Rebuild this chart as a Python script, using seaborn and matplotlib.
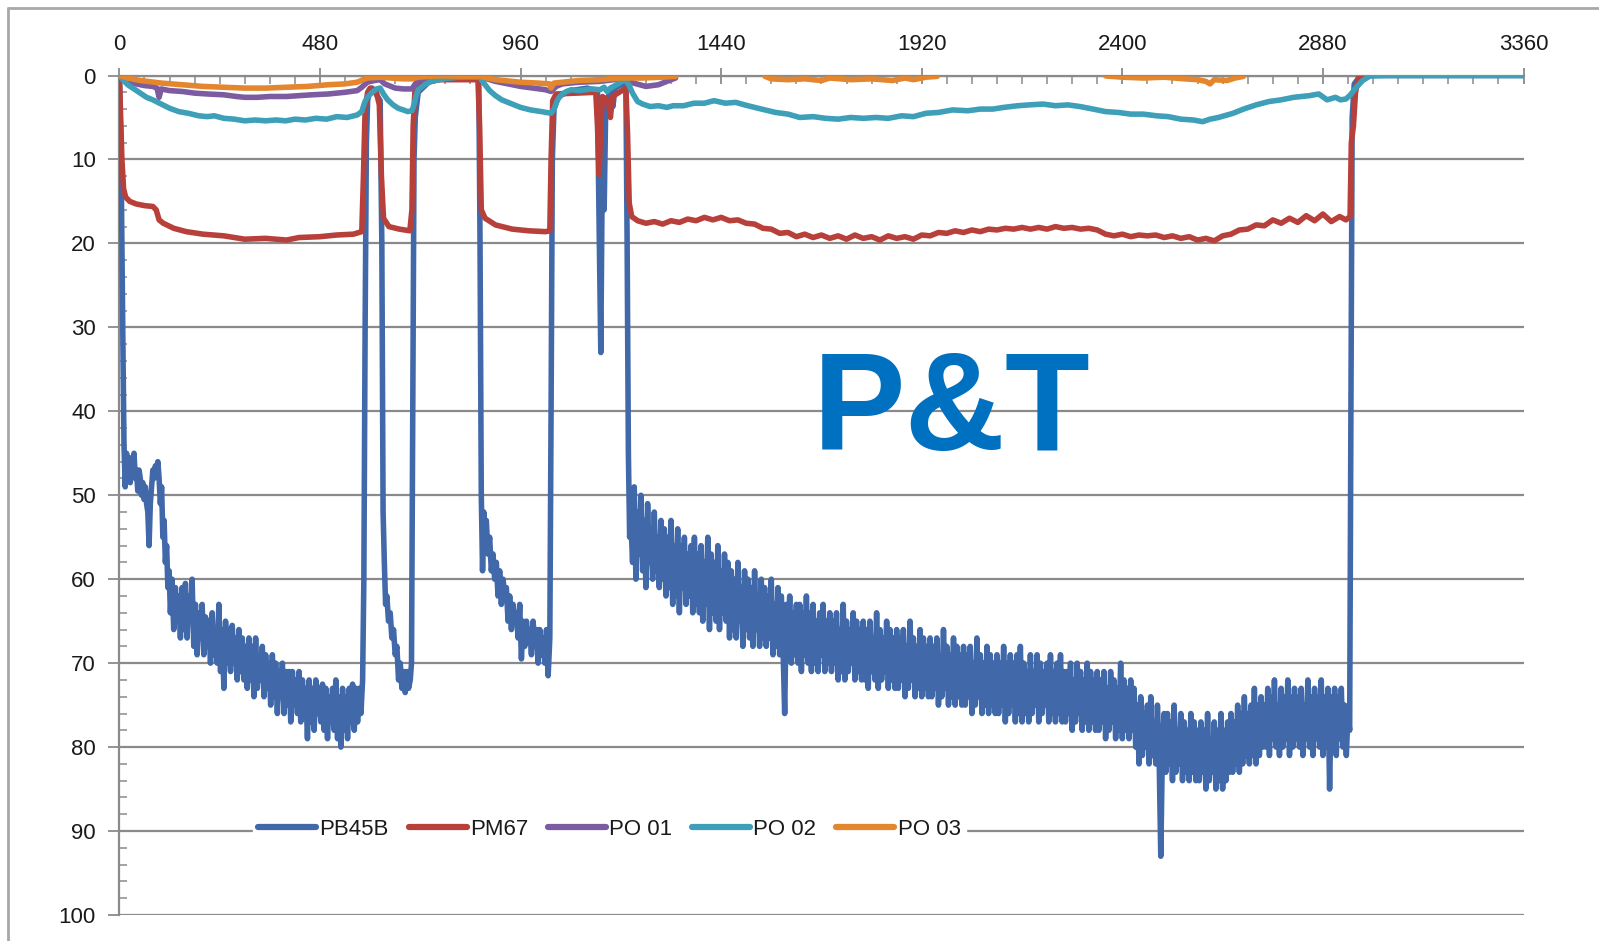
import numpy as np
import pandas as pd
import matplotlib
matplotlib.use("Agg")
import matplotlib.pyplot as plt
import seaborn as sns
from matplotlib.lines import Line2D
from matplotlib.ticker import MultipleLocator

# ---------------- data ----------------
SERIES = ["PB45B", "PM67", "PO 01", "PO 02", "PO 03"]
COLORS = ["#4169AA", "#B8403A", "#7D5BA0", "#3D9FB8", "#E3862E"]
X_TICKS = [0, 480, 960, 1440, 1920, 2400, 2880, 3360]
Y_TICKS = [0, 10, 20, 30, 40, 50, 60, 70, 80, 90, 100]

# PB45B: head section (x, y)
pb45b_head = [
    (0, 0), (4, 10), (8, 30), (11, 44), (14, 49), (17, 45), (20, 47), (23, 45.5), (26, 48.5), (29, 46),
    (32, 47.5), (35, 45), (38, 48), (41, 47), (44, 49.5), (47, 47), (50, 48), (53, 50), (56, 48.5), (59, 50.5),
    (62, 49), (65, 51), (68, 52), (71, 56), (74, 51), (77, 49), (80, 47), (83, 48), (86, 46.5), (89, 47.5),
    (92, 46), (95, 48), (98, 51), (101, 49), (104, 55), (107, 53), (110, 58), (113, 56), (116, 61), (119, 59),
    (122, 64), (126, 60), (130, 66), (134, 61), (138, 65), (142, 62), (146, 67), (150, 61), (154, 66), (158, 60.5),
    (162, 67), (166, 62), (170, 65), (174, 60), (178, 68), (182, 63), (186, 69), (190, 64), (194, 67), (198, 63),
    (202, 69), (206, 64.5), (210, 68), (214, 65), (218, 70), (222, 64), (226, 69), (230, 66), (234, 70), (238, 63),
    (242, 71), (246, 66), (250, 73), (254, 65), (258, 70), (262, 66), (266, 71), (270, 65.5), (274, 70), (278, 67),
    (282, 72), (286, 66), (290, 71), (294, 67), (298, 72), (302, 68), (306, 73), (310, 67), (314, 72), (318, 68),
    (322, 74), (326, 67), (330, 73), (334, 69), (338, 72), (342, 68), (346, 74), (350, 69), (354, 73), (358, 70),
    (362, 75), (366, 69), (370, 74), (374, 70), (378, 76), (382, 71), (386, 74), (390, 70), (394, 76), (398, 71),
    (402, 75), (406, 71), (410, 77), (414, 71), (418, 75), (422, 72), (426, 76), (430, 71), (434, 77), (438, 72),
    (442, 76), (446, 73), (450, 79), (454, 72), (458, 77), (462, 73), (466, 78), (470, 72), (474, 76), (478, 73),
    (482, 77), (486, 72.5), (490, 78), (494, 73), (498, 79), (502, 74), (506, 77), (510, 73), (514, 78), (518, 72),
    (522, 79), (526, 74), (530, 80), (534, 73), (538, 78), (542, 74), (546, 79), (550, 73), (554, 77), (558, 72.5),
    (562, 78), (566, 73), (570, 77), (574, 73), (578, 76), (582, 72), (585, 60), (588, 30), (591, 8), (594, 3),
    (598, 2), (605, 1.5), (612, 2), (618, 2.5), (624, 3), (628, 20), (631, 52), (634, 58), (637, 63), (640, 62),
    (644, 65), (648, 64), (652, 67), (656, 66), (660, 69), (664, 68), (668, 72), (672, 70), (676, 73), (680, 71),
    (684, 73.5), (688, 71), (692, 73), (696, 72), (699, 70), (702, 40), (705, 10), (708, 5), (715, 2), (740, 0.8),
    (780, 0.3), (860, 0.3), (863, 20), (866, 50), (869, 59), (872, 52), (875, 55), (878, 53), (882, 57), (886, 55),
    (890, 59), (894, 57), (898, 60), (902, 58), (906, 62), (910, 59), (914, 63), (918, 60), (922, 62), (926, 61),
    (930, 65), (934, 62), (938, 66), (942, 63), (946, 65), (950, 64), (954, 67), (958, 63), (962, 69.5), (966, 65),
    (970, 68), (974, 65), (978, 67), (982, 66), (986, 69), (990, 65), (994, 68), (998, 66), (1002, 70), (1006, 66),
    (1010, 69), (1014, 67), (1018, 70), (1022, 66), (1026, 71.5), (1030, 67), (1033, 40), (1036, 10), (1040, 4), (1050, 2.5),
    (1080, 1.8), (1120, 1.5), (1144, 2), (1148, 18), (1152, 33), (1156, 8), (1160, 16), (1164, 3), (1176, 2), (1181, 3.7),
    (1186, 1.5), (1205, 1), (1212, 1), (1215, 20), (1218, 45), (1221, 55),
]
# PB45B: noisy stretch, one reading every 4 units from 1224 to 2940
pb45b_band_start = 1224
pb45b_band = [
    53, 58, 49, 60, 52, 57, 50, 59, 53, 61, 51, 58, 54, 60, 52, 59, 55, 61, 53, 60,
    54, 62, 55, 61, 53, 63, 56, 62, 54, 64, 56, 61, 55, 63, 57, 62, 56, 64, 55, 63,
    57, 64, 56, 65, 58, 63, 55, 66, 57, 64, 58, 65, 56, 66, 59, 64, 57, 65, 58, 67,
    59, 66, 60, 67, 58, 65, 61, 68, 59, 66, 60, 67, 61, 68, 59, 66, 62, 68, 60, 67,
    61, 68, 62, 67, 60, 69, 63, 68, 61, 69, 62, 68, 76, 63, 69, 62, 70, 64, 69, 63,
    70, 63, 71, 64, 69, 62, 70, 64, 71, 63, 70, 65, 71, 64, 69, 63, 71, 65, 70, 64,
    71, 65, 70, 64, 72, 66, 71, 63, 72, 65, 71, 66, 70, 64, 72, 65, 71, 66, 72, 65,
    72, 66, 73, 65, 71, 67, 72, 64, 73, 66, 72, 67, 71, 65, 73, 66, 72, 67, 73, 66,
    73, 67, 72, 66, 74, 68, 73, 65, 72, 67, 74, 68, 73, 66, 74, 67, 73, 68, 74, 67,
    74, 68, 73, 67, 75, 69, 74, 66, 73, 68, 75, 69, 74, 67, 75, 68, 74, 69, 75, 68,
    75, 69, 74, 68, 76, 70, 75, 67, 74, 69, 76, 70, 75, 68, 76, 69, 75, 70, 76, 69,
    76, 70, 75, 68, 77, 70, 76, 69, 75, 70, 77, 69, 76, 68, 77, 70, 76, 71, 77, 69,
    76, 71, 75, 69, 77, 70, 76, 71, 75, 70, 77, 69, 76, 71, 77, 70, 76, 69, 77, 71,
    77, 71, 76, 70, 78, 72, 77, 70, 76, 71, 78, 72, 77, 70, 78, 71, 77, 72, 78, 71,
    78, 72, 77, 71, 79, 73, 78, 71, 77, 72, 79, 73, 78, 70, 79, 72, 78, 73, 79, 72,
    78, 73, 80, 75, 82, 74, 81, 76, 80, 75, 82, 74, 81, 77, 82, 75, 81, 93, 80, 76,
    83, 76, 82, 77, 84, 75, 83, 78, 82, 76, 84, 77, 83, 78, 84, 76, 83, 77, 84, 78,
    84, 77, 83, 78, 85, 76, 84, 79, 83, 77, 85, 78, 84, 76, 85, 78, 84, 77, 83, 76,
    83, 77, 82, 75, 83, 76, 82, 74, 81, 76, 82, 75, 81, 73, 82, 75, 81, 74, 80, 75,
    80, 73, 81, 74, 79, 72, 80, 75, 81, 73, 80, 74, 79, 72, 81, 74, 80, 73, 79, 74,
    80, 73, 81, 75, 79, 72, 80, 74, 81, 73, 79, 74, 80, 72, 81, 74, 80, 73, 85, 74,
    80, 73, 81, 74, 79, 73, 80, 75, 81, 76,
]
pb45b_tail = [(2944, 78), (2947, 40), (2950, 5), (2955, 1), (2970, 0), (3360, 0)]

pm67_pts = [
    (0, 0), (3, 5), (6, 10), (10, 13.5), (15, 14.5), (25, 15), (40, 15.3), (60, 15.5), (80, 15.6), (88, 16),
    (95, 17.2), (105, 17.6), (130, 18.2), (160, 18.6), (200, 18.9), (250, 19.1), (300, 19.5), (350, 19.4), (400, 19.6), (430, 19.3),
    (480, 19.2), (520, 19.0), (560, 18.9), (580, 18.6), (584, 12), (588, 4), (594, 2), (600, 1.5), (615, 2), (622, 3.5),
    (627, 12), (632, 17), (645, 18), (670, 18.3), (695, 18.5), (700, 16), (703, 6), (707, 2), (720, 1), (760, 0.5),
    (858, 0.5), (862, 6), (866, 16), (875, 17), (900, 17.8), (940, 18.3), (980, 18.5), (1020, 18.6), (1030, 18.5), (1033, 10),
    (1037, 3), (1045, 2.2), (1140, 2), (1144, 6), (1148, 11.8), (1152, 6), (1156, 2.5), (1170, 3), (1175, 5), (1180, 2.5),
    (1212, 1.5), (1216, 7), (1220, 15.2), (1226, 16.8), (1240, 17.3), (1260, 17.6), (1280, 17.4), (1300, 17.7), (1320, 17.3), (1340, 17.5),
    (1360, 17.1), (1380, 17.3), (1400, 16.9), (1420, 17.2), (1440, 16.9), (1460, 17.3), (1480, 17.2), (1500, 17.6), (1520, 17.7), (1540, 18.2),
    (1560, 18.3), (1580, 18.8), (1600, 18.7), (1620, 19.2), (1640, 18.9), (1660, 19.3), (1680, 19.0), (1700, 19.4), (1720, 19.1), (1740, 19.5),
    (1760, 19.0), (1780, 19.4), (1800, 19.2), (1820, 19.6), (1840, 19.1), (1860, 19.4), (1880, 19.2), (1900, 19.5), (1920, 19.0), (1940, 19.1),
    (1960, 18.7), (1980, 18.8), (2000, 18.5), (2020, 18.7), (2040, 18.4), (2060, 18.6), (2080, 18.3), (2100, 18.4), (2120, 18.2), (2140, 18.3),
    (2160, 18.1), (2180, 18.3), (2200, 18.1), (2220, 18.3), (2240, 18.0), (2260, 18.2), (2280, 18.1), (2300, 18.3), (2320, 18.2), (2340, 18.4),
    (2360, 18.9), (2380, 19.1), (2400, 18.9), (2420, 19.2), (2440, 19.0), (2460, 19.1), (2480, 19.0), (2500, 19.3), (2520, 19.1), (2540, 19.4),
    (2560, 19.2), (2580, 19.6), (2600, 19.4), (2620, 19.7), (2640, 19.1), (2660, 18.9), (2680, 18.4), (2700, 18.3), (2720, 17.8), (2740, 17.9),
    (2760, 17.2), (2780, 17.6), (2800, 17.0), (2820, 17.5), (2840, 16.7), (2860, 17.3), (2880, 16.5), (2900, 17.4), (2920, 16.8), (2935, 17.2),
    (2945, 16.8), (2948, 8), (2953, 6), (2958, 2), (2965, 0.3), (2975, 0),
]

po01_pts = [
    (0, 0), (10, 0.5), (20, 0.8), (40, 1.0), (60, 1.2), (80, 1.3), (90, 1.5), (95, 2.6), (100, 1.6), (120, 1.8),
    (150, 1.9), (180, 2.1), (210, 2.2), (250, 2.3), (280, 2.5), (300, 2.6), (330, 2.6), (360, 2.5), (400, 2.5), (430, 2.4),
    (460, 2.3), (500, 2.2), (540, 2.0), (569, 1.8), (580, 1.4), (593, 0.8), (610, 0.6), (624, 0.5), (635, 1.0), (660, 1.5),
    (680, 1.6), (700, 1.6), (708, 1.0), (715, 0.6), (740, 0.3), (760, 0.1), (862, 0.1), (880, 0.4), (900, 0.7), (930, 1.0),
    (960, 1.3), (990, 1.5), (1020, 1.7), (1033, 1.9), (1045, 1.3), (1060, 1.0), (1100, 0.8), (1150, 0.7), (1200, 0.4), (1215, 0.5),
    (1230, 0.9), (1260, 1.3), (1290, 1.1), (1310, 0.7), (1331, 0.3),
]

po02_pts = [
    (0, 0), (10, 0.6), (20, 1.1), (35, 1.6), (50, 2.1), (65, 2.6), (80, 2.9), (100, 3.4), (120, 3.9), (142, 4.3),
    (165, 4.5), (190, 4.8), (210, 4.9), (227, 4.8), (250, 5.1), (275, 5.2), (300, 5.4), (325, 5.3), (350, 5.4), (375, 5.3),
    (398, 5.4), (420, 5.2), (445, 5.3), (470, 5.1), (496, 5.2), (520, 4.9), (545, 5.0), (569, 4.7), (580, 4.3), (587, 3.2),
    (593, 2.6), (605, 2.0), (615, 1.6), (624, 1.5), (632, 2.2), (642, 2.9), (655, 3.5), (667, 3.9), (679, 4.1), (690, 4.3),
    (700, 4.2), (705, 3.5), (710, 2.4), (715, 1.7), (730, 1.1), (745, 0.7), (764, 0.5), (790, 0.3), (813, 0.2), (840, 0.2),
    (862, 0.2), (872, 0.9), (886, 1.8), (900, 2.4), (915, 2.9), (935, 3.3), (960, 3.8), (984, 4.1), (1010, 4.3), (1033, 4.5),
    (1040, 4.0), (1046, 3.2), (1051, 2.7), (1060, 2.2), (1070, 1.9), (1081, 1.7), (1100, 1.8), (1130, 1.6), (1150, 1.7), (1160, 1.4),
    (1167, 1.9), (1175, 1.5), (1190, 1.1), (1200, 0.8), (1210, 0.5), (1220, 1.2), (1228, 2.1), (1240, 3.1), (1252, 3.4), (1270, 3.7),
    (1290, 3.6), (1310, 3.8), (1325, 3.6), (1350, 3.6), (1375, 3.3), (1400, 3.3), (1423, 3.0), (1450, 3.3), (1475, 3.2), (1496, 3.5),
    (1520, 3.8), (1545, 4.1), (1570, 4.4), (1600, 4.6), (1628, 5.0), (1660, 4.9), (1690, 5.1), (1720, 5.2), (1750, 5.0), (1780, 5.1),
    (1810, 5.0), (1840, 5.1), (1872, 4.8), (1900, 4.9), (1930, 4.5), (1960, 4.4), (1994, 4.1), (2030, 4.2), (2060, 4.0), (2090, 4.0),
    (2116, 3.8), (2150, 3.6), (2177, 3.5), (2210, 3.4), (2240, 3.6), (2270, 3.5), (2299, 3.7), (2330, 4.0), (2360, 4.3), (2390, 4.4),
    (2420, 4.6), (2450, 4.6), (2482, 4.8), (2510, 4.9), (2540, 5.2), (2570, 5.3), (2592, 5.5), (2610, 5.2), (2630, 5.0), (2665, 4.5),
    (2690, 4.0), (2720, 3.5), (2751, 3.1), (2780, 2.9), (2810, 2.6), (2848, 2.4), (2870, 2.2), (2890, 2.9), (2910, 2.6), (2922, 2.9),
    (2935, 2.8), (2946, 2.3), (2960, 1.4), (2975, 0.6), (2993, 0.05), (3030, 0), (3360, 0),
]

po03_seg1 = [
    (0, 0), (20, 0.3), (50, 0.6), (100, 0.9), (150, 1.1), (200, 1.3), (250, 1.4), (300, 1.5), (350, 1.5), (400, 1.4),
    (450, 1.3), (500, 1.1), (540, 1.0), (569, 0.8), (593, 0.3), (624, 0.2), (650, 0.3), (680, 0.4), (700, 0.4), (715, 0.2),
    (760, 0.05), (862, 0.1), (900, 0.5), (960, 0.8), (1000, 0.9), (1030, 1.0), (1033, 1.5), (1040, 0.9), (1100, 0.6), (1150, 0.5),
    (1200, 0.3), (1250, 0.3), (1300, 0.2), (1331, 0.1),
]
po03_seg2 = [
    (1545, 0.1), (1560, 0.4), (1600, 0.5), (1640, 0.4), (1680, 0.6), (1700, 0.3), (1750, 0.5), (1800, 0.4), (1850, 0.6), (1880, 0.3),
    (1900, 0.5), (1930, 0.2), (1957, 0.1),
]
po03_seg3 = [
    (2360, 0.05), (2400, 0.2), (2450, 0.3), (2500, 0.2), (2550, 0.4), (2580, 0.5), (2600, 0.7), (2610, 1.0), (2620, 0.5), (2650, 0.6),
    (2670, 0.3), (2690, 0.1),
]

# ---------------- assemble long-form table ----------------
rows = []
def add(series, seg, pts):
    for x, y in pts:
        rows.append((series, seg, x, y))

pb45b_all = list(pb45b_head) + [(pb45b_band_start + 4 * i, v) for i, v in enumerate(pb45b_band)] + list(pb45b_tail)
add("PB45B", 0, pb45b_all)
add("PM67", 1, pm67_pts)
add("PO 01", 2, po01_pts)
add("PO 02", 3, po02_pts)
add("PO 03", 4, po03_seg1)
add("PO 03", 5, po03_seg2)
add("PO 03", 6, po03_seg3)
df = pd.DataFrame(rows, columns=["series", "seg", "t", "value"])

# ---------------- figure ----------------
sns.set_theme(style="white")
plt.rcParams["font.family"] = ["Liberation Sans", "DejaVu Sans"]
plt.rcParams["path.simplify"] = False

W, H = 1599, 941
fig = plt.figure(figsize=(W / 100, H / 100), dpi=100)
fig.patch.set_facecolor("white")
ax = fig.add_axes([119.4 / W, 1 - 915 / H, (1523.5 - 119.4) / W, (915 - 75.5) / H])

palette = dict(zip(SERIES, COLORS))
sns.lineplot(data=df, x="t", y="value", hue="series", hue_order=SERIES, units="seg",
             estimator=None, sort=False, palette=palette, linewidth=4.0, legend=False,
             ax=ax, zorder=3)
for ln in ax.get_lines():
    ln.set_linewidth(4.0)
    ln.set_solid_joinstyle("round")
    ln.set_solid_capstyle("round")

GRID = "#8a8a8a"
ax.set_xlim(0, 3360)
ax.set_ylim(100, 0)
ax.set_xlabel("")
ax.set_ylabel("")
ax.xaxis.tick_top()
ax.set_xticks(X_TICKS)
ax.set_xticklabels([str(v) for v in X_TICKS])
ax.xaxis.set_minor_locator(MultipleLocator(60))
ax.set_yticks(Y_TICKS)
ax.set_yticklabels([str(v) for v in Y_TICKS])
ax.yaxis.set_minor_locator(MultipleLocator(2))
ax.grid(axis="y", which="major", color=GRID, linewidth=1.6, zorder=1)
ax.grid(axis="x", visible=False)
ax.set_axisbelow(True)

for side in ["right", "bottom"]:
    ax.spines[side].set_visible(False)
for side in ["top", "left"]:
    ax.spines[side].set_visible(True)
    ax.spines[side].set_color(GRID)
    ax.spines[side].set_linewidth(1.6)

ax.tick_params(axis="x", which="major", direction="inout", length=11, width=1.3, color=GRID,
               labelsize=16, labelcolor="#1a1a1a", pad=9, top=True, bottom=False)
ax.tick_params(axis="x", which="minor", direction="in", length=6, width=1.1, color=GRID, top=True, bottom=False)
ax.tick_params(axis="y", which="major", direction="out", length=8, width=1.3, color=GRID,
               labelsize=16, labelcolor="#1a1a1a", pad=9, left=True)
ax.tick_params(axis="y", which="minor", direction="in", length=6, width=1.1, color=GRID, left=True)

# big label
ax.text(1992, 44.6, "P&T", fontsize=100, fontweight="bold", color="#0070C0",
        ha="center", va="baseline", family=["Liberation Sans", "DejaVu Sans"], zorder=4)

# legend
handles = [Line2D([0], [0], color=c, lw=4.5) for c in COLORS]
leg = ax.legend(handles, SERIES, loc="center", bbox_to_anchor=(0.349, 0.1024), ncol=5,
                frameon=True, fontsize=16, handlelength=2.6, handletextpad=0.15,
                columnspacing=0.9, borderpad=0.25, borderaxespad=0)
leg.get_frame().set_facecolor("white")
leg.get_frame().set_edgecolor("white")
leg.get_frame().set_alpha(1)
leg.set_zorder(5)
for t in leg.get_texts():
    t.set_color("#1a1a1a")

# outer chart frame
fig.add_artist(Line2D([8 / W, 1], [1 - 8 / H, 1 - 8 / H], transform=fig.transFigure, color="#a8a8a8", lw=2))
fig.add_artist(Line2D([8 / W, 8 / W], [0, 1 - 8 / H], transform=fig.transFigure, color="#a8a8a8", lw=2))

fig.savefig("out.png", dpi=100, facecolor="white")
